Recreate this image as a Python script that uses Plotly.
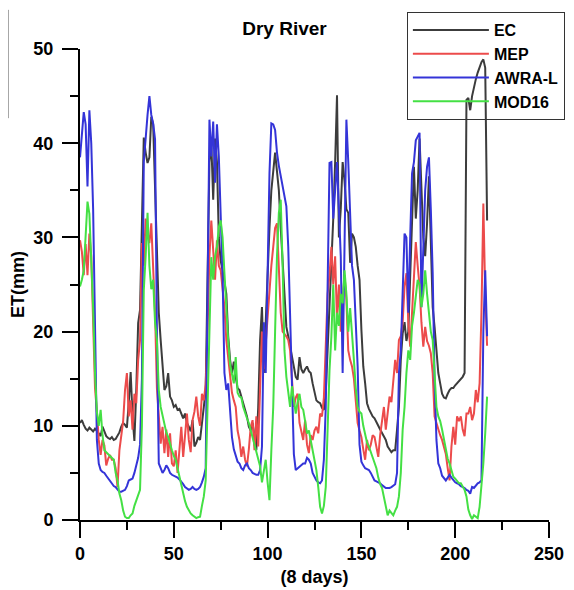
import plotly.graph_objects as go

x_days = list(range(0, 218))

ec = [
    10.3, 10.6, 10.1, 9.7, 9.5, 9.8, 9.6, 9.4, 9.7, 9.5,
    9.2, 8.9, 9.9, 9.4, 8.9, 8.7, 8.6, 8.8, 8.5, 8.6,
    9.0, 9.3, 9.9, 10.3, 10.1, 9.8, 12.5, 15.7, 11.0, 8.4,
    13.8, 20.9, 22.3, 31.0, 40.6, 39.0, 37.9, 38.5, 42.8, 42.0,
    35.0, 26.2, 22.0, 19.1, 16.5, 13.8, 14.2, 15.6, 13.1, 12.7,
    12.0, 12.2, 11.7, 11.8, 11.3, 10.8, 11.3, 10.3, 9.9, 9.4,
    10.6, 7.8, 8.2, 8.8, 8.5, 10.0, 12.0, 13.8, 26.0, 38.0,
    40.0, 34.0, 40.5, 38.0, 30.0, 27.5, 26.5, 25.0, 24.0, 19.5,
    17.0, 15.6, 16.8, 15.2, 14.0, 13.8, 13.1, 12.4, 11.7, 11.0,
    9.9, 9.5, 10.3, 8.5, 7.4, 12.0, 19.1, 22.6, 15.6, 21.0,
    27.0, 31.0, 35.0, 37.5, 39.0, 37.0, 35.0, 31.0, 27.0, 24.0,
    20.5, 19.5, 18.4, 17.0, 15.9, 15.2, 14.9, 17.3, 16.0, 15.6,
    16.0, 16.3, 15.8, 15.6, 14.5, 13.5, 12.7, 12.5, 12.4, 11.9,
    11.7, 13.5, 18.0, 22.0, 27.0, 32.0, 38.0, 45.1, 30.0, 33.0,
    38.0, 36.0, 33.0, 32.6, 27.3, 30.4, 30.0, 29.0, 27.0, 25.5,
    20.2, 16.3, 14.5, 12.4, 11.8, 11.3, 11.0, 10.8, 10.3, 10.0,
    9.6, 9.2, 8.8, 8.5, 7.8, 7.5, 7.2, 7.4, 7.4, 9.6,
    12.0, 17.0, 19.8, 21.0, 19.0, 20.0, 26.0, 33.0, 37.5, 32.0,
    35.0, 40.5, 36.0, 30.0, 28.0, 31.5, 36.5, 30.0, 22.6, 20.5,
    18.0, 15.6, 14.5, 13.4, 13.0, 12.9, 13.4, 13.8, 14.0, 14.0,
    14.3, 14.5, 14.7, 14.9, 15.2, 15.6, 44.6, 44.8, 43.5, 45.0,
    46.0, 46.8, 47.5, 48.1, 48.6, 48.9, 48.0, 31.8,
]

mep = [
    29.7, 28.5, 26.0, 29.3, 26.0, 30.4, 28.0, 22.0, 14.0, 11.5,
    8.5, 6.9, 8.5, 7.9, 5.8, 6.5, 6.9, 6.4, 6.4, 5.5,
    3.5, 7.4, 8.8, 10.5, 13.8, 15.6, 11.0, 12.7, 9.6, 13.4,
    12.4, 17.0, 19.1, 29.4, 27.0, 32.0, 30.5, 29.4, 31.5, 27.0,
    22.0, 14.0, 10.6, 8.1, 9.9, 7.1, 9.6, 6.7, 9.2, 6.0,
    5.7, 7.4, 5.0, 8.0, 9.9, 6.7, 9.0, 11.3, 8.5, 7.2,
    10.6, 11.5, 13.1, 11.0, 10.0, 13.4, 12.7, 14.4, 20.0, 28.0,
    31.8, 28.0, 25.5, 29.7, 27.0, 26.5, 24.5, 22.6, 19.1, 17.0,
    15.6, 13.5, 12.7, 12.0, 9.5, 8.5, 6.7, 7.8, 6.4, 5.7,
    7.5, 9.9, 10.6, 7.4, 11.0, 7.8, 14.0, 20.0, 16.0, 19.0,
    22.0, 25.0, 27.0, 29.0, 31.0, 31.5, 26.0, 22.0, 20.0, 19.8,
    19.5, 19.1, 18.0, 14.9, 12.0, 13.0, 13.4, 10.3, 9.5, 8.5,
    10.6, 8.0, 7.1, 9.0, 8.5, 9.5, 9.9, 9.2, 11.3, 11.0,
    13.0, 19.8, 24.0, 26.0, 29.0, 25.0, 28.0, 21.2, 25.0, 20.0,
    23.0, 26.0, 23.4, 18.0, 17.0, 16.3, 15.0, 12.5, 10.3, 9.5,
    8.8, 7.5, 6.4, 8.5, 7.4, 8.0, 9.0, 8.8, 7.5, 6.7,
    9.0, 10.6, 12.0, 9.6, 11.5, 13.1, 12.5, 15.0, 17.0, 15.6,
    19.1, 19.5, 21.0, 24.8, 26.2, 21.0, 18.4, 22.0, 26.0, 29.5,
    27.0, 24.8, 21.0, 18.4, 20.5, 19.0, 18.5, 17.7, 15.6, 11.0,
    10.3, 9.6, 9.0, 8.5, 7.8, 7.0, 5.5, 4.2, 7.8, 9.9,
    8.0, 11.0, 10.5, 11.0, 9.6, 8.9, 11.3, 11.3, 12.0, 10.6,
    11.3, 13.8, 12.5, 14.5, 22.0, 33.6, 24.0, 18.5,
]

awra = [
    38.5, 41.5, 43.3, 42.0, 35.4, 43.5, 40.0, 33.0, 19.0, 8.5,
    6.0, 5.3, 5.1, 5.0, 4.7, 4.4, 4.2, 3.9, 3.6, 3.5,
    3.2, 3.0, 3.0, 3.1, 3.2, 3.6, 4.2, 4.3, 4.4, 5.0,
    5.7, 6.6, 8.0, 15.0, 38.0, 41.0, 43.0, 45.0, 43.0, 42.1,
    40.4, 20.0, 6.0, 5.5, 5.0, 5.3, 5.8, 5.5, 5.0, 4.8,
    4.7, 4.6, 4.5, 4.3, 4.1, 3.8, 3.5, 3.3, 3.2, 3.3,
    3.5, 3.3, 3.2, 3.3, 3.5, 4.0, 4.6, 5.5, 28.0, 42.5,
    38.6, 42.3, 35.8, 42.0, 38.6, 33.3, 26.0, 15.6, 13.8, 14.5,
    11.0, 8.8, 7.5, 6.7, 6.2, 6.0, 5.5, 5.3, 5.8, 6.0,
    5.5, 5.3, 5.0, 4.9, 4.8, 4.8, 5.3, 7.8, 21.0, 15.6,
    26.2, 36.8, 42.1, 42.0, 41.4, 39.0, 37.6, 36.5, 35.4, 34.0,
    33.3, 29.0, 22.0, 16.0, 7.0, 5.3, 5.5, 5.7, 5.9, 6.0,
    6.0, 6.6, 6.4, 6.0, 5.0, 4.6, 4.2, 4.0, 3.9, 4.2,
    6.4, 12.0, 26.0, 37.9, 38.0, 32.0, 35.0, 38.0, 33.0, 28.0,
    15.6, 32.0, 42.5, 38.0, 32.0, 27.0, 25.5, 21.2, 16.3, 8.0,
    6.2, 5.8, 5.5, 5.4, 5.3, 5.0, 4.6, 4.2, 4.1, 4.0,
    3.9, 3.7, 3.5, 3.4, 3.4, 3.4, 3.5, 3.7, 3.8, 5.0,
    15.6, 18.0, 24.8, 30.4, 30.0, 22.0, 30.0, 36.8, 38.0, 40.3,
    40.7, 41.1, 22.6, 30.0, 35.0, 37.5, 38.5, 33.0, 26.2, 15.0,
    8.5, 6.0, 5.5, 4.7, 4.5, 4.2, 4.5, 4.8, 4.5, 4.2,
    4.0, 3.9, 3.8, 3.6, 3.5, 3.4, 3.2, 3.1, 2.8, 3.5,
    3.4, 3.7, 3.9, 4.0, 4.2, 20.0, 26.5, 19.5,
]

mod16 = [
    24.8, 25.5, 26.5, 29.7, 33.8, 32.5, 28.0, 22.6, 15.6, 11.5,
    10.0, 11.7, 9.0, 7.4, 7.2, 7.0, 6.7, 6.5, 6.4, 5.0,
    4.2, 2.8, 2.1, 1.0, 0.35, 0.2, 0.2, 0.5, 0.7, 1.5,
    2.1, 2.8, 3.2, 10.0, 24.4, 28.0, 32.6, 27.0, 24.5, 25.5,
    21.0, 19.1, 13.8, 12.0, 11.0, 9.9, 9.3, 8.8, 8.0, 7.4,
    6.8, 6.4, 5.5, 4.6, 3.7, 2.8, 2.0, 1.4, 1.0, 0.7,
    0.5, 0.3, 0.2, 0.3, 0.35, 1.5, 2.5, 4.2, 12.0, 21.2,
    27.9, 25.5, 28.0, 29.0, 31.1, 31.8, 30.0, 26.2, 22.0, 19.0,
    16.5, 15.6, 14.5, 17.3, 13.5, 13.1, 13.0, 12.0, 11.3, 10.8,
    10.3, 9.5, 8.8, 8.0, 7.4, 6.5, 5.7, 4.0, 5.5, 6.4,
    4.0, 2.1, 7.4, 12.0, 20.0, 28.0, 32.6, 34.0, 27.0, 18.0,
    15.2, 13.5, 12.0, 14.2, 12.5, 11.3, 12.5, 13.4, 12.0, 11.7,
    10.5, 9.2, 9.5, 8.5, 7.4, 6.5, 5.3, 3.5, 1.4, 0.7,
    1.5, 3.5, 10.0, 15.9, 19.5, 25.0, 18.0, 22.0, 20.6, 24.0,
    23.0, 26.5, 24.0, 20.0, 22.5, 19.1, 17.0, 14.0, 12.0, 11.5,
    11.3, 10.0, 9.0, 8.2, 7.8, 7.2, 6.5, 6.0, 5.5, 4.5,
    3.8, 3.4, 2.5, 1.6, 0.5, 1.0, 0.7, 0.5, 1.0, 1.4,
    2.5, 5.0, 9.6, 12.0, 15.6, 18.0, 17.0, 20.6, 22.0, 24.0,
    25.5, 25.0, 22.6, 24.0, 26.5, 24.0, 21.9, 20.0, 19.1, 15.0,
    12.0, 11.0, 10.5, 9.6, 8.5, 7.5, 6.5, 6.0, 5.3, 4.6,
    4.4, 4.1, 3.9, 3.9, 3.5, 3.2, 2.5, 1.1, 0.5, 0.1,
    0.5, 0.3, 0.2, 1.4, 3.5, 6.0, 9.2, 13.1,
]

series_names = ["EC", "MEP", "AWRA-L", "MOD16"]
series_values = [ec, mep, awra, mod16]
series_colors = ["#3c3c3c", "#ec4b4b", "#3434d8", "#44e044"]

x_ticks = [0, 50, 100, 150, 200, 250]
y_ticks = [0, 10, 20, 30, 40, 50]

FONT = "Liberation Sans, Arial, sans-serif"

# page has an 8px body margin, so the figure is drawn 8px in from the top-left
FIG_W, FIG_H = 566, 582

fig = go.Figure()
for name, vals, col in zip(series_names, series_values, series_colors):
    fig.add_trace(go.Scatter(
        x=x_days, y=vals, mode="lines", name=name,
        line=dict(color=col, width=2),
    ))

axis_common = dict(
    showline=True, linecolor="black", linewidth=2,
    ticks="outside", ticklen=16, tickwidth=2, tickcolor="black",
    showgrid=False, zeroline=False, mirror=False, automargin=False,
    tickfont=dict(family=FONT, size=18, color="black", weight="bold"),
)

fig.update_xaxes(
    range=[0, 250], tickvals=x_ticks,
    minor=dict(ticks="outside", ticklen=8, tickwidth=2, tickcolor="black", dtick=25, tick0=0, showgrid=False),
    title=dict(text="(8 days)", font=dict(family=FONT, size=18, color="black", weight="bold"), standoff=8),
    **axis_common,
)
fig.update_yaxes(
    range=[0, 50], tickvals=y_ticks, ticklabelstandoff=5,
    minor=dict(ticks="outside", ticklen=8, tickwidth=2, tickcolor="black", dtick=5, tick0=0, showgrid=False),
    title=dict(text="ET(mm)", font=dict(family=FONT, size=18, color="black", weight="bold"), standoff=5),
    **axis_common,
)

fig.update_layout(
    width=FIG_W, height=FIG_H,
    margin=dict(l=72, r=25, t=41, b=70, autoexpand=False),
    paper_bgcolor="white", plot_bgcolor="white",
    title=dict(text="Dry River", x=276.5 / FIG_W, xanchor="center", y=1 - 20 / FIG_H, yanchor="middle",
               font=dict(family=FONT, size=19, color="black", weight="bold")),
    legend=dict(
        x=0.697, y=(520 - 12) / 471, xanchor="left", yanchor="top",
        bgcolor="rgba(0,0,0,0)", bordercolor="#333333", borderwidth=1,
        font=dict(family=FONT, size=16, color="black", weight="bold"),
        itemwidth=76,
    ),
    showlegend=True,
    shapes=[dict(type="rect", xref="paper", yref="paper",
                 x0=-0.175, x1=-0.153, y0=(520 - 118) / 471, y1=(520 - 10) / 471,
                 line=dict(color="#888888", width=1))],
)

fig.write_html("out.html")
